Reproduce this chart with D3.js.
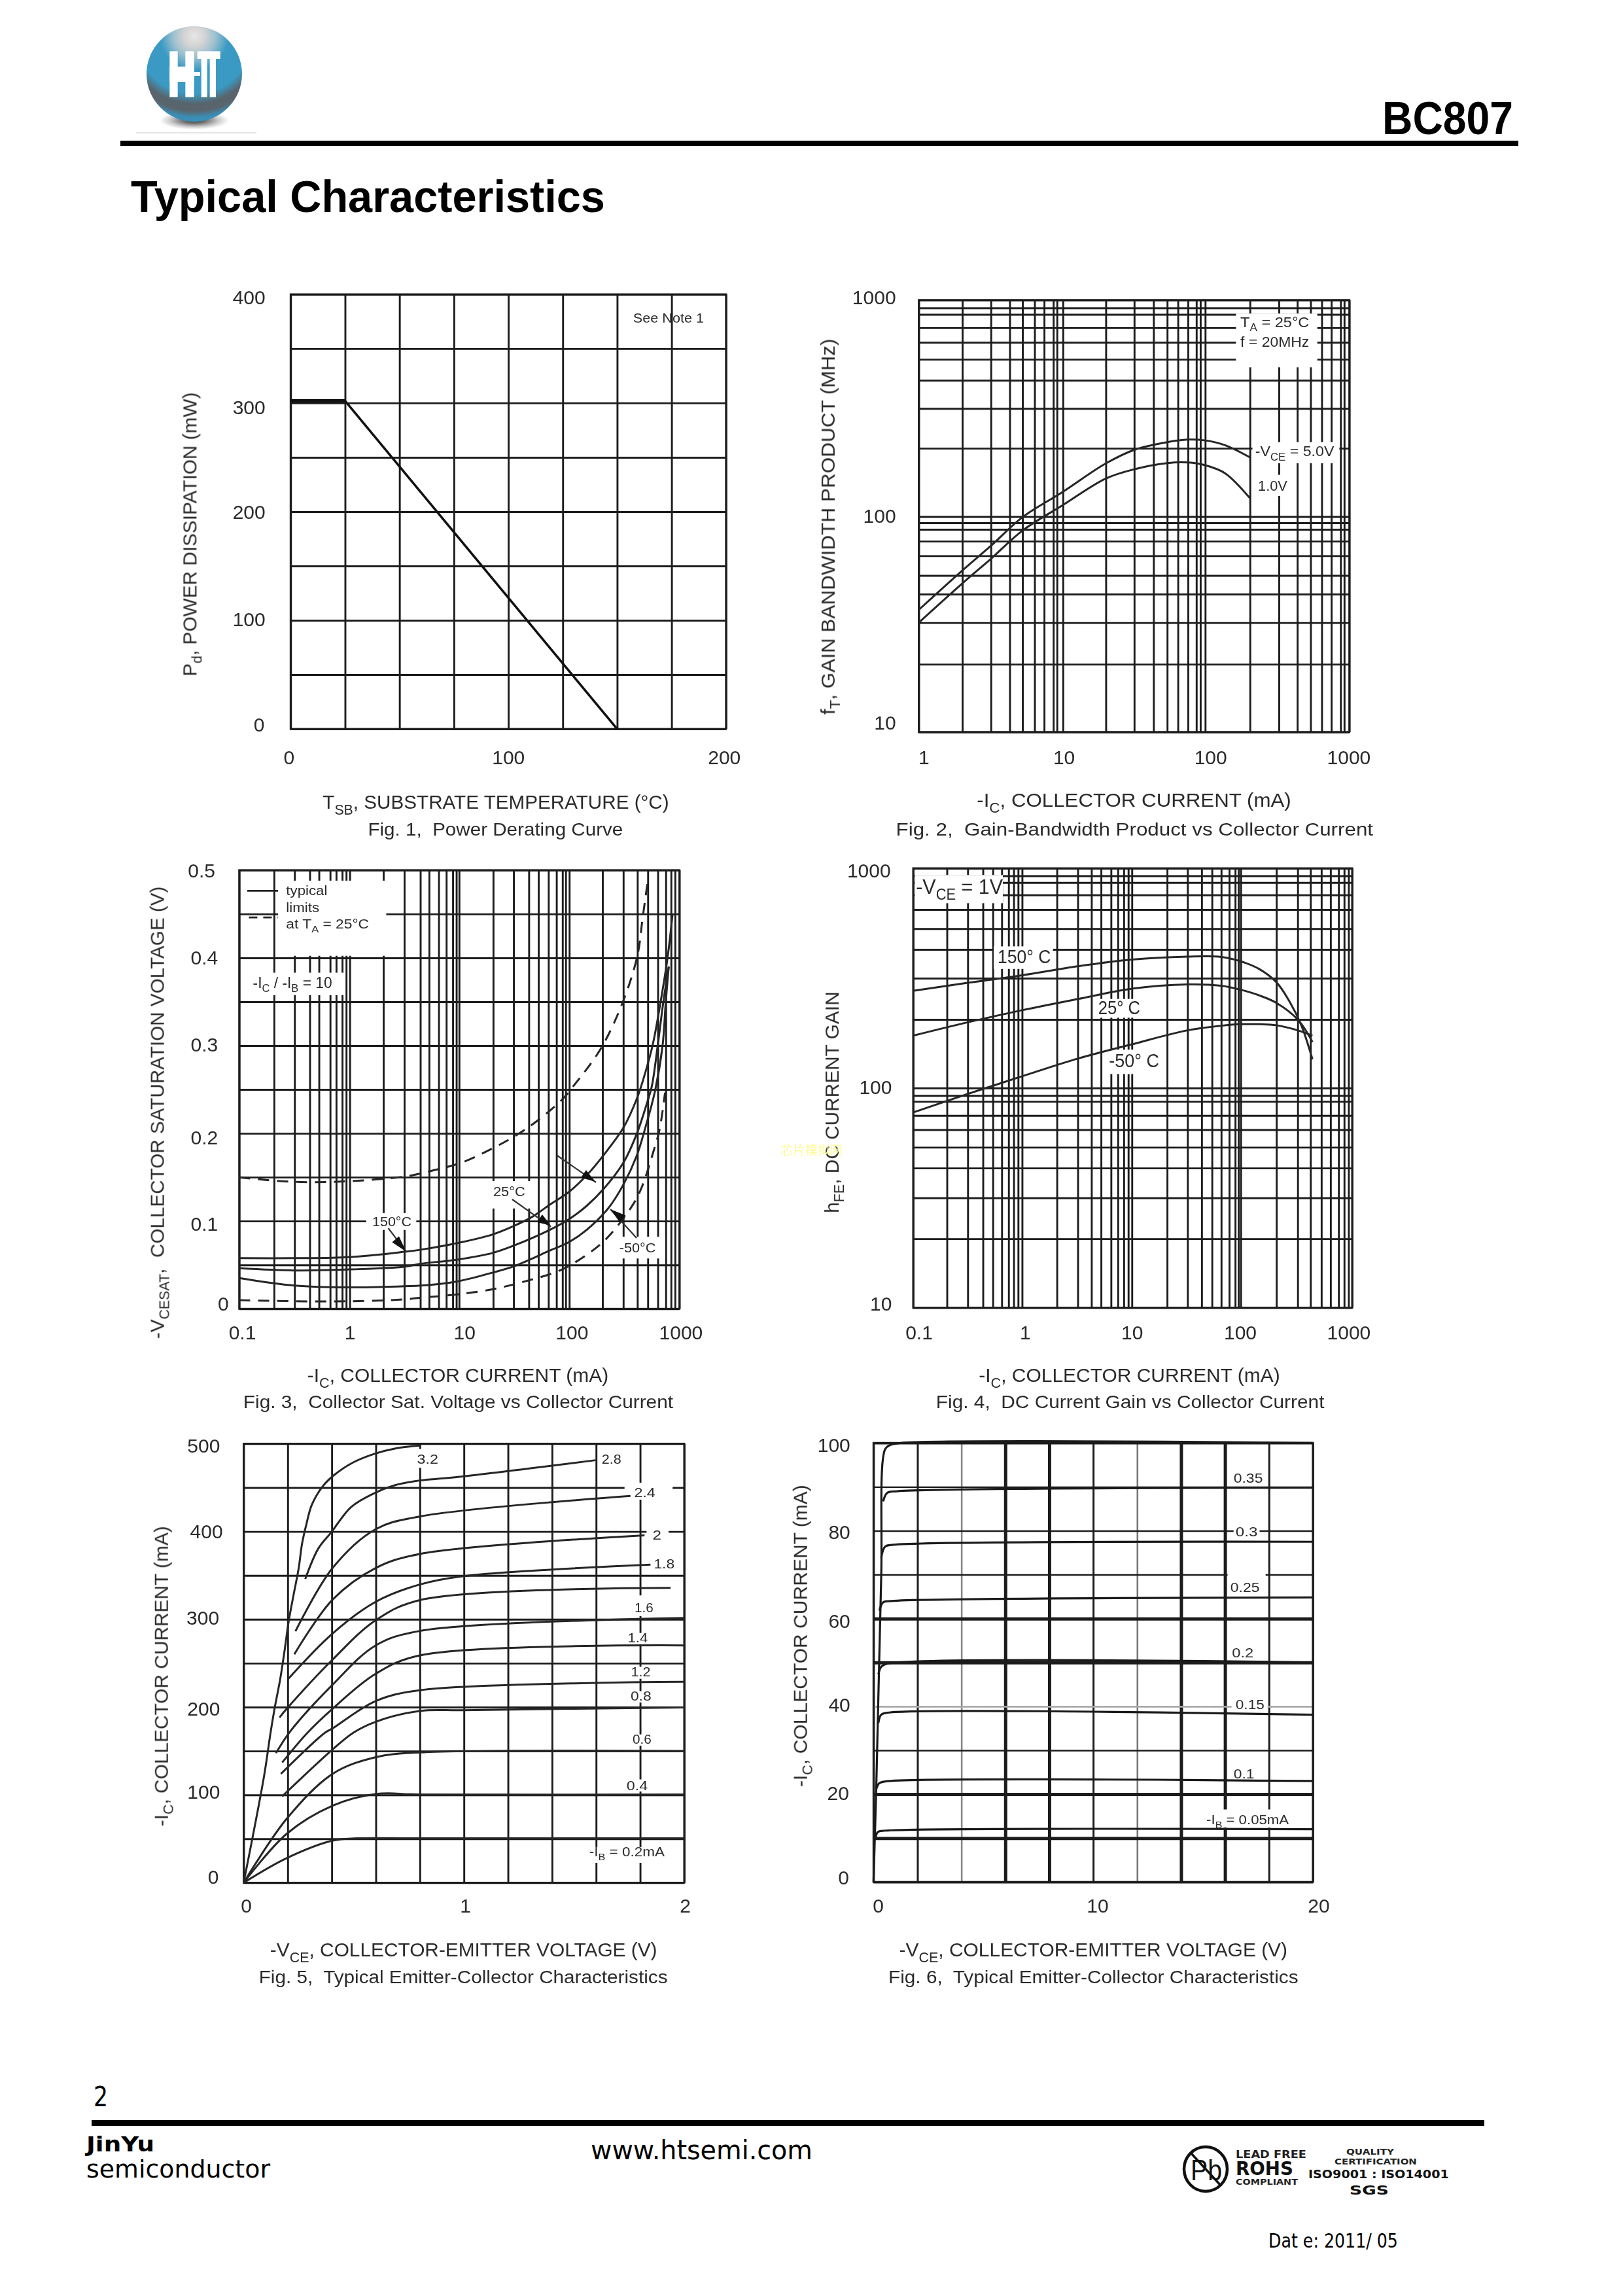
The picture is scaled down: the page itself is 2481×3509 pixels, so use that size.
<!DOCTYPE html>
<html><head><meta charset="utf-8">
<script src="https://cdn.jsdelivr.net/npm/d3@7"></script>
<style>html,body{margin:0;padding:0;background:#fff}svg{display:block}</style>
</head><body><svg id="page" width="2481" height="3509" viewBox="0 0 2481 3509"></svg>
<script>
// ---------- data ----------
const fig1Grid = {x:[0,25,50,75,100,125,150,175,200], y:[0,50,100,150,200,250,300,350,400]};
const fig1T = [0,25,150];
const fig1P = [302,302,0];

const fig2GridX = [1,2.01,3.18,4.30,5.28,6.41,7.47,8.66,9.18,10.1,20.1,31.7,43.2,53.8,63.9,75.1,85.9,91.6,99,203,323,434,537,642,749,869,921,1000];
const fig2GridY = [10,20.6,32.1,43.5,53.1,65.5,76.5,86.8,93.1,99.4,206,315,425,532,637,745,859,921,1000];
const fig2Ic = [1,2,3.2,5.3,10,20,32,54,75,99,136,203];
const fig2V5 = [36.8,55.8,73.1,99,129,175,203,220,226,224,213,187];
const fig2V1 = [32.1,48.6,63.6,85.8,112,149,165,176,177,172,158,121];

const fig3GridX = [0.1,0.207,0.318,0.437,0.53,0.67,0.76,0.862,0.937,1.01,2.04,3.16,4.42,5.31,6.49,7.61,8.71,9.39,9.95,20.3,31.1,42.8,52.3,64.5,76.3,86.5,92.5,99.8,200,309,415,516,636,752,839,912,1000];
const fig3GridY = [0,0.05,0.1,0.15,0.2,0.25,0.3,0.35,0.4,0.45,0.5];
const fig3IcHot = [0.1,0.318,1.01,3.16,4.47,10.6,20.1,31.8,45.8,65.9,99.4,143,206,311,409,469,570,675,780,867];
const fig3Hot = [0.0578,0.0578,0.059,0.065,0.0674,0.0761,0.0848,0.0948,0.1047,0.1184,0.1333,0.1519,0.1756,0.2067,0.239,0.2613,0.30,0.35,0.40,0.45];
const fig3IcMid = [0.1,0.318,1.01,3.16,4.47,9.7,20.1,31.8,65.9,99.4,143,206,311,409,513,562,635,715,800];
const fig3Mid = [0.0462,0.0437,0.0449,0.0479,0.0513,0.0562,0.0637,0.0724,0.0898,0.1022,0.1171,0.137,0.1669,0.1992,0.2365,0.2539,0.30,0.35,0.39];
const fig3IcCold = [0.1,0.318,1.01,3.16,4.47,9.7,20.1,31.8,65.9,99.4,143,226,311,409,491,602,703,752,800];
const fig3Cold = [0.0351,0.0265,0.0244,0.0257,0.0264,0.0314,0.0413,0.0488,0.0662,0.0761,0.0898,0.1147,0.142,0.1743,0.2067,0.2489,0.30,0.35,0.39];
const fig3IcLimHi = [0.1,0.318,1.01,3.16,4.47,10.6,20.1,31.8,47.9,86.7,117,137,200,309,415,463,516];
const fig3LimHi = [0.1498,0.1447,0.1455,0.1507,0.1544,0.1669,0.183,0.1967,0.2116,0.239,0.2589,0.2697,0.2997,0.351,0.4024,0.4452,0.488];
const fig3IcLimLo = [0.1,0.318,1.01,3.16,4.47,7.72,18.4,39.9,86.7,172,236,382,458,589,660,740];
const fig3LimLo = [0.0098,0.0086,0.0086,0.0107,0.0127,0.0152,0.0214,0.0314,0.0451,0.0687,0.0848,0.1196,0.1395,0.1818,0.2042,0.2464];

const fig4GridX = [0.1,0.203,0.314,0.432,0.532,0.641,0.74,0.824,0.904,0.983,2.04,3.16,4.21,5.15,6.35,7.33,8.3,9.12,9.84,20.6,31.6,42.5,52.8,64.1,75.8,85.9,92,96.6,204,319,417,524,635,752,846,927,1000];
const fig4GridY = [10,20.6,31.6,43.2,53.7,64.6,75,86.8,92.4,100,205,316,427,531,649,756,861,924,1000];
const fig4IcHot = [0.1,0.314,0.983,3.16,9.84,31.6,64.1,96.6,142,204,267,344,435];
const fig4Hot = [277,301,326,358,384,396,395,377,348,303,249,193,135];
const fig4IcMid = [0.1,0.314,0.983,3.16,9.84,31.6,64.1,96.6,142,204,319,435];
const fig4Mid = [173,199,226,254,283,296,292,280,264,244,205,162];
const fig4Cold = [77.4,93.9,113,136,158,183,192,195,195,193,183,173];

const fig5GridX = [0,0.2,0.4,0.6,0.8,1,1.2,1.4,1.6,1.8,2];
const fig5GridY = [0,50,100,150,200,250,300,350,400,450,500];
const fig5Curves = [
  [[0,0],[0.195,28],[0.404,48],[0.51,50.5],[0.8,50.5],[2,50.5]],
  [[0,0],[0.195,55.6],[0.404,87.7],[0.6,101],[0.8,100.5],[2,100.5]],
  [[0,0],[0.195,72.7],[0.404,124],[0.6,143],[0.8,148.4],[2,150]],
  [[0.175,98.4],[0.404,151.8],[0.4974,170.8],[0.5984,183.2],[0.7993,195.6],[1,196.5],[2,199.7]],
  [[0.169,124],[0.3687,170.8],[0.4034,175.7],[0.5984,206.8],[0.7993,219.2],[2,228.8]],
  [[0.175,136.9],[0.2896,170.8],[0.4034,198.1],[0.5984,237.8],[0.7993,258.9],[2,270.3]],
  [[0.147,147.6],[0.2104,172],[0.4034,225.4],[0.5984,270.1],[0.7993,286.7],[2,301.5]],
  [[0.1629,188.2],[0.1955,198.1],[0.4034,254],[0.5984,298.7],[0.7993,321.8],[1.938,335.8]],
  [[0.2005,231.6],[0.4034,283.8],[0.5984,319.8],[0.7993,339.6],[1.005,349.4],[1.847,362.3]],
  [[0.2302,260.2],[0.4034,322.3],[0.5984,358.3],[0.7993,374.4],[1.82,395.6]],
  [[0.2351,286.3],[0.4034,358.3],[0.5984,402.5],[0.7993,417.1],[1.756,440.5]],
  [[0.2797,345.9],[0.339,380.6],[0.3984,399.2],[0.4875,427.8],[0.5964,444],[0.6855,452.6],[0.7993,458.1],[0.9429,461.3],[1.598,481.2]],
  [[0,0],[0.093,121.9],[0.1213,169.5],[0.1411,199.3],[0.1658,231.6],[0.1856,263.9],[0.2034,296.2],[0.2252,326],[0.25,358.3],[0.2648,385.6],[0.2846,408],[0.3094,430.3],[0.3588,451.4],[0.4083,463.8],[0.4974,478.7],[0.5964,488.7],[0.6855,494.4],[0.7993,497.8]]
];

const fig6GridX = [0,2,4,6,8,10,12,14,16,18,20];
const fig6GridY = [0,10,20,30,40,50,60,70,80,90,100];
const fig6Curves = [
  [[0,0],[0.13,22.5],[0.35,69.5],[0.53,98.6],[0.75,99.5],[1.26,100],[20,100]],
  [[0.44,86.7],[0.62,88.6],[1.08,89],[20,89.8]],
  [[0.35,73.8],[0.53,76.4],[0.89,76.8],[20,77.5]],
  [[0.27,61.8],[0.44,63.7],[0.8,64],[20,64.8]],
  [[0.22,47.3],[0.35,49],[0.62,49.7],[20,50]],
  [[0.22,36.2],[0.35,38.1],[0.71,38.6],[20,38.1]],
  [[0.13,21.2],[0.26,22.5],[0.53,22.9],[20,23]],
  [[0.09,10],[0.2,11.4],[0.53,11.7],[20,12]]
];

// ---------- helpers ----------
const svg = d3.select('#page');
const defs = svg.append('defs');
const INK = '#1c1c1c', TXT = '#2b2b2b', FONT = '"Liberation Sans",Arial,sans-serif';
const SX = 1568/960;
defs.append('filter').attr('id','soft').attr('x','-5%').attr('y','-5%').attr('width','110%').attr('height','110%')
  .attr('color-interpolation-filters','sRGB').append('feGaussianBlur').attr('stdDeviation',0.55);

function fit(parent, segs, x0, x1, base, size, o={}) {
  const t = parent.append('text').attr('font-family', o.font||FONT).attr('font-size', size)
    .attr('font-weight', o.bold?'bold':'normal').attr('fill', o.fill||TXT).attr('xml:space','preserve')
    .style('white-space','pre');
  if (typeof segs === 'string') segs = [segs];
  let shift = 0;
  segs.forEach(s => {
    const sub = Array.isArray(s);
    const ts = t.append('tspan').text(sub ? s[0] : s);
    if (sub) { ts.attr('font-size', size*0.72).attr('dy', size*0.28-shift); shift = size*0.28; }
    else if (shift) { ts.attr('dy', -shift); shift = 0; }
  });
  const len = t.node().getComputedTextLength();
  const k = Math.abs(x1-x0)/len;
  if (o.rotate) t.attr('transform', `translate(${base},${x0}) rotate(-90) scale(${k},1)`);
  else t.attr('transform', `translate(${x0},${base}) scale(${k},1)`);
  return t;
}

function frame(ox, oy, sy, l, r, t, b) {
  const zx = z => ox + z/SX, zy = z => oy + z/sy;
  const g = svg.append('g').attr('filter','url(#soft)');
  return {zx, zy, g, L:zx(l), R:zx(r), T:zy(t), B:zy(b)};
}

function grid(f, x, y, gx, gy, o={}) {
  const w = f.R-f.L, h = f.B-f.T;
  const vg = f.g.append('g').attr('transform',`translate(0,${f.B})`)
    .call(d3.axisBottom(x).tickValues(gx).tickSize(-h).tickSizeOuter(0).tickFormat(''));
  const hg = f.g.append('g').attr('transform',`translate(${f.L},0)`)
    .call(d3.axisLeft(y).tickValues(gy).tickSize(-w).tickSizeOuter(0).tickFormat(''));
  [vg,hg].forEach(a => { a.select('.domain').remove(); a.selectAll('text').remove(); });
  vg.selectAll('line').attr('stroke', (d,i)=>o.cx?o.cx[i]:INK).attr('stroke-width',(d,i)=>o.wx?o.wx[i]:2.9);
  hg.selectAll('line').attr('stroke', (d,i)=>o.cy?o.cy[i]:INK).attr('stroke-width',(d,i)=>o.wy?o.wy[i]:2.9);
}

function tickLabels(f, x, y, xv, xl, xc, xy, yv, yl, yc, yr, size=30) {
  const ax = f.g.append('g').attr('transform',`translate(0,${f.B})`)
    .call(d3.axisBottom(x).tickValues(xv).tickSize(0).tickFormat((d,i)=>xl[i]));
  ax.select('.domain').remove();
  ax.attr('font-size',size).attr('font-family',FONT);
  ax.selectAll('text').attr('fill',TXT).attr('dy','0.36em')
    .attr('x',(d,i)=>f.zx(xc[i])-x(d)).attr('y',f.zy(xy)-f.B);
  const ay = f.g.append('g').attr('transform',`translate(${f.L},0)`)
    .call(d3.axisLeft(y).tickValues(yv).tickSize(0).tickFormat((d,i)=>yl[i]));
  ay.select('.domain').remove();
  ay.attr('font-size',size).attr('font-family',FONT);
  ay.selectAll('text').attr('fill',TXT).attr('dy','0.36em')
    .attr('x',(d,i)=>f.zx(yr[i])-f.L).attr('y',(d,i)=>f.zy(yc[i])-y(d));
}

function titles(f, xt, xa, xb, xbase, cap, ca, cb, cbase, yt, yb, ys, ye, size=30) {
  fit(f.g, xt, f.zx(xa), f.zx(xb), f.zy(xbase), size);
  fit(f.g, cap, f.zx(ca), f.zx(cb), f.zy(cbase), size*0.95);
  fit(f.g, yt, f.zy(ys), f.zy(ye), f.zx(yb), size, {rotate:true});
}

function box(f, a, b, c, d) {
  f.g.append('rect').attr('x',f.zx(a)).attr('y',f.zy(b)).attr('width',f.zx(c)-f.zx(a)).attr('height',f.zy(d)-f.zy(b)).attr('fill','#fff');
}
function label(f, s, a, b, base, size=21) { fit(f.g, s, f.zx(a), f.zx(b), f.zy(base), size); }

function border(f, w=2.9) {
  f.g.append('rect').attr('x',f.L).attr('y',f.T).attr('width',f.R-f.L).attr('height',f.B-f.T)
    .attr('fill','none').attr('stroke',INK).attr('stroke-width',w);
}
function curve(f, x, y, xs, ys, o={}) {
  const pts = d3.zip(xs, ys);
  const ln = d3.line().x(d=>x(d[0])).y(d=>y(d[1])).curve(o.linear?d3.curveLinear:d3.curveCatmullRom.alpha(0.5));
  f.g.append('path').attr('d',ln(pts)).attr('fill','none').attr('stroke',o.color||'#262626')
    .attr('stroke-width',o.w||3).attr('stroke-dasharray',o.dash||null).attr('stroke-linejoin','round');
}
function pairs(f, x, y, arr, o={}) { curve(f, x, y, arr.map(d=>d[0]), arr.map(d=>d[1]), o); }
// annotation arrow in page pixels: tail line, then a filled head from tip to base
function arrow(f, x1, y1, x2, y2, tx, ty, bx, by) {
  f.g.append('line').attr('x1',x1).attr('y1',y1).attr('x2',x2).attr('y2',y2).attr('stroke','#333').attr('stroke-width',2.2);
  const dx=bx-tx, dy=by-ty, n=Math.hypot(dx,dy)||1, px=-dy/n*7, py=dx/n*7;
  f.g.append('polygon').attr('points',`${tx},${ty} ${bx+px},${by+py} ${bx-px},${by-py}`).attr('fill','#111');
}

// ---------- page header ----------
const sphere = defs.append('radialGradient').attr('id','sph').attr('gradientUnits','userSpaceOnUse')
  .attr('cx',297).attr('cy',55).attr('r',130).attr('fx',297).attr('fy',55);
[[0,'#e6e6e6'],[0.12,'#d4d4d4'],[0.25,'#9cc0cf'],[0.4,'#3a9ac4'],[0.68,'#3a9ac4'],[0.8,'#58646c'],[0.88,'#5a646c'],[0.96,'#3a8fb8'],[1,'#3a8fb8']]
  .forEach(s=>sphere.append('stop').attr('offset',s[0]).attr('stop-color',s[1]));
const shade = defs.append('radialGradient').attr('id','shd');
[[0,'#333'],[0.35,'#777'],[0.7,'#ccc'],[1,'#fff']].forEach(s=>shade.append('stop').attr('offset',s[0]).attr('stop-color',s[1]));
const head = svg.append('g');
head.append('ellipse').attr('cx',297).attr('cy',184).attr('rx',53).attr('ry',14).attr('fill','url(#shd)');
head.append('ellipse').attr('cx',297).attr('cy',113).attr('rx',73).attr('ry',73).attr('fill','url(#sph)');
// logo monogram, stencilled like the original mark
const mark = [[178,145,37,210],[250,145,40,210],[178,215,112,70],[290,240,28,18],[305,145,105,35],[323,180,27,175],[362,180,28,175]];
head.selectAll('.mk').data(mark).enter().append('rect').attr('class','mk').attr('fill','#fff')
  .attr('x',d=>200+d[0]/3).attr('y',d=>30+d[1]/3).attr('width',d=>d[2]/3).attr('height',d=>d[3]/3);
head.append('rect').attr('x',208).attr('y',202).attr('width',184).attr('height',2).attr('fill','#e4e4e4');
fit(head,'BC807',2113,2313,205,70,{bold:true,fill:'#000'});
head.append('rect').attr('x',184).attr('y',215).attr('width',2137).attr('height',8).attr('fill','#000');
fit(head,'Typical Characteristics',200,925,324,68,{bold:true,fill:'#000'});

// ---------- Fig 1 ----------
{
  const f = frame(230,400,1568/920,350,1437,85,1217);
  const x = d3.scaleLinear().domain([0,200]).range([f.L,f.R]);
  const y = d3.scaleLinear().domain([0,400]).range([f.B,f.T]);
  grid(f,x,y,fig1Grid.x,fig1Grid.y);
  border(f);
  tickLabels(f,x,y,[0,100,200],['0','100','200'],[345,893,1432],1290,[0,100,200,300,400],['0','100','200','300','400'],[1205,930,650,378,92],[285,287,287,287,287]);
  curve(f,x,y,fig1T,fig1P,{linear:true,w:3.6,color:'#111'});
  curve(f,x,y,fig1T.slice(0,2),fig1P.slice(0,2),{linear:true,w:5,color:'#111'});
  titles(f,['T',['SB'],', SUBSTRATE TEMPERATURE (°C)'],430,1295,1425,'Fig. 1,  Power Derating Curve',543,1180,1495,['P',['d'],', POWER DISSIPATION (mW)'],115,1080,340);
  label(f,'See Note 1',1205,1382,158,20);
}
// ---------- Fig 2 ----------
{
  const f = frame(1230,400,1568/920,285,1360,100,1225);
  const x = d3.scaleLog().domain([1,1000]).range([f.L,f.R]);
  const y = d3.scaleLog().domain([10,1000]).range([f.B,f.T]);
  grid(f,x,y,fig2GridX,fig2GridY);
  border(f);
  box(f,1077,135,1280,275); box(f,1118,470,1335,525); box(f,1125,555,1210,610);
  tickLabels(f,x,y,[1,10,100,1000],['1','10','100','1000'],[297,647,1013,1358],1290,[10,100,1000],['10','100','1000'],[1200,660,92],[228,228,228]);
  curve(f,x,y,fig2Ic,fig2V5); curve(f,x,y,fig2Ic,fig2V1);
  titles(f,['-I',['C'],', COLLECTOR CURRENT (mA)'],430,1215,1420,'Fig. 2,  Gain-Bandwidth Product vs Collector Current',228,1420,1495,['f',['T'],', GAIN BANDWIDTH PRODUCT (MHz)'],75,1180,200);
  label(f,['T',['A'],' = 25°C'],1088,1260,170,22);
  label(f,'f = 20MHz',1088,1260,222,22);
  label(f,['-V',['CE'],' = 5.0V'],1125,1322,507,22);
  label(f,'1.0V',1132,1205,597,22);
}
// ---------- Fig 3 ----------
{
  const f = frame(220,1300,1568/900,238,1337,52,1220);
  const x = d3.scaleLog().domain([0.1,1000]).range([f.L,f.R]);
  const y = d3.scaleLinear().domain([0,0.5]).range([f.B,f.T]);
  grid(f,x,y,fig3GridX,fig3GridY);
  border(f);
  box(f,335,80,605,280); box(f,265,325,500,385); box(f,555,965,680,1010); box(f,865,880,972,953); box(f,1184,1028,1301,1086);
  tickLabels(f,x,y,[0.1,1,10,100,1000],['0.1','1','10','100','1000'],[245,514,800,1068,1340],1282,[0,0.1,0.2,0.3,0.4,0.5],['0','0.1','0.2','0.3','0.4','0.5'],[1205,993,762,515,283,52],[212,185,185,185,185,178]);
  curve(f,x,y,fig3IcHot,fig3Hot); curve(f,x,y,fig3IcMid,fig3Mid); curve(f,x,y,fig3IcCold,fig3Cold);
  curve(f,x,y,fig3IcLimHi,fig3LimHi,{dash:'17 12'}); curve(f,x,y,fig3IcLimLo,fig3LimLo,{dash:'17 12'});
  arrow(f,851.7,1766,911,1807, 910,1806,892,1794);
  arrow(f,783,1833,842,1875, 842,1873,825,1862);
  arrow(f,973,1892,933,1848, 933,1848,952,1863);
  arrow(f,593.5,1877,621,1913, 621,1913,604.6,1894);
  f.g.append('line').attr('x1',f.zx(258)).attr('x2',f.zx(335)).attr('y1',f.zy(107)).attr('y2',f.zy(107)).attr('stroke','#222').attr('stroke-width',2.6);
  f.g.append('line').attr('x1',f.zx(262)).attr('x2',f.zx(335)).attr('y1',f.zy(178)).attr('y2',f.zy(178)).attr('stroke','#222').attr('stroke-width',2.6).attr('stroke-dasharray','13 9');
  titles(f,['-I',['C'],', COLLECTOR CURRENT (mA)'],408,1160,1415,'Fig. 3,  Collector Sat. Voltage vs Collector Current',248,1322,1485,['-V',['CESAT'],',  COLLECTOR SATURATION VOLTAGE (V)'],50,1300,95);
  label(f,'typical',355,458,118); label(f,'limits',355,438,163);
  label(f,['at T',['A'],' = 25°C'],355,562,208);
  label(f,['-I',['C'],' / -I',['B'],' = 10'],272,470,365,23);
  label(f,'150°C',570,668,1000); label(f,'25°C',872,952,920); label(f,'-50°C',1187,1278,1070);
}
// ---------- Fig 4 ----------
{
  const f = frame(1230,1300,1568/900,271,1367,47,1217);
  const x = d3.scaleLog().domain([0.1,1000]).range([f.L,f.R]);
  const y = d3.scaleLog().domain([10,1000]).range([f.B,f.T]);
  grid(f,x,y,fig4GridX,fig4GridY);
  border(f);
  box(f,275,65,495,140); box(f,472,255,620,315); box(f,725,395,845,445); box(f,755,530,890,595);
  tickLabels(f,x,y,[0.1,1,10,100,1000],['0.1','1','10','100','1000'],[285,550,817,1087,1358],1282,[10,100,1000],['10','100','1000'],[1205,628,52],[218,218,215]);
  curve(f,x,y,fig4IcHot,fig4Hot); curve(f,x,y,fig4IcMid,fig4Mid); curve(f,x,y,fig4IcMid,fig4Cold);
  titles(f,['-I',['C'],', COLLECTOR CURRENT (mA)'],435,1187,1415,'Fig. 4,  DC Current Gain vs Collector Current',328,1298,1485,['h',['FE'],', DC CURRENT GAIN'],85,965,375);
  label(f,['-V',['CE'],' = 1V'],278,495,115,32);
  label(f,'150° C',482,615,300,30); label(f,'25° C',733,838,436,30); label(f,'-50° C',760,885,577,30);
}
// ---------- Fig 5 ----------
{
  const f = frame(220,2180,1568/900,249,1349,46,1215);
  const x = d3.scaleLinear().domain([0,2]).range([f.L,f.R]);
  const y = d3.scaleLinear().domain([0,500]).range([f.B,f.T]);
  grid(f,x,y,fig5GridX,fig5GridY);
  border(f);
  [[680,60,740,110],[1200,150,1320,195],[1255,270,1310,310],[1265,350,1335,385],[1225,450,1280,505],[1205,550,1262,580],[1212,640,1270,672],[1212,705,1270,735],[1217,820,1270,850],[1203,940,1262,972],[1110,1120,1305,1162]]
    .forEach(b=>box(f,b[0],b[1],b[2],b[3]));
  tickLabels(f,x,y,[0,1,2],['0','1','2'],[255,802,1351],1275,[0,100,200,300,400,500],['0','100','200','300','400','500'],[1198,972,750,508,278,50],[187,190,190,188,197,190]);
  fig5Curves.forEach(c=>pairs(f,x,y,c));
  titles(f,['-V',['CE'],', COLLECTOR-EMITTER VOLTAGE (V)'],315,1282,1412,'Fig. 5,  Typical Emitter-Collector Characteristics',287,1308,1483,['-I',['C'],', COLLECTOR CURRENT (mA)'],60,1065,265);
  [['3.2',682,735,100],['2.8',1143,1192,100],['2.4',1224,1277,188],['2',1270,1292,302],['1.8',1273,1325,378],['1.6',1225,1272,495],['1.4',1208,1258,575],['1.2',1216,1265,665],['0.8',1215,1267,730],['0.6',1220,1267,845],['0.4',1205,1258,968]]
    .forEach(l=>label(f,l[0],l[1],l[2],l[3]));
  label(f,['-I',['B'],' = 0.2mA'],1112,1300,1145);
}
// ---------- Fig 6 ----------
{
  const f = frame(1200,2180,1568/900,221,1318,44,1213);
  const x = d3.scaleLinear().domain([0,20]).range([f.L,f.R]);
  const y = d3.scaleLinear().domain([0,100]).range([f.B,f.T]);
  grid(f,x,y,fig6GridX,fig6GridY,{
    wx:[3,3,2.6,5,5,3,2.6,5,5,3,3], cx:[INK,INK,'#888',INK,INK,INK,'#777',INK,INK,INK,INK],
    wy:[3.5,5,5,2.4,2.6,5,5,2.4,2.4,2.4,3.5], cy:[INK,INK,INK,INK,'#aaa',INK,INK,INK,INK,INK,INK]
  });
  border(f,3);
  [[1105,125,1200,158],[1120,265,1185,295],[1105,385,1200,445],[1112,590,1175,620],[1115,725,1205,760],[1115,910,1178,940],[1045,1020,1265,1068]]
    .forEach(b=>box(f,b[0],b[1],b[2],b[3]));
  tickLabels(f,x,y,[0,10,20],['0','10','20'],[232,780,1332],1275,[0,20,40,60,80,100],['0','20','40','60','80','100'],[1200,975,740,517,280,48],[160,160,163,163,163,163]);
  fig6Curves.forEach(c=>pairs(f,x,y,c,{w:3.2,color:'#1a1a1a'}));
  titles(f,['-V',['CE'],', COLLECTOR-EMITTER VOLTAGE (V)'],285,1255,1412,'Fig. 6,  Typical Emitter-Collector Characteristics',258,1282,1483,['-I',['C'],', COLLECTOR CURRENT (mA)'],55,960,155);
  [['0.35',1120,1193,150],['0.3',1125,1180,292],['0.25',1112,1185,440],['0.2',1116,1170,615],['0.15',1125,1197,752],['0.1',1120,1172,938]]
    .forEach(l=>label(f,l[0],l[1],l[2],l[3]));
  label(f,['-I',['B'],' = 0.05mA'],1052,1258,1060);
}
// watermark over the Fig 4 axis title
svg.append('text').attr('x',1193).attr('y',1765).attr('font-family','"Noto Sans CJK SC"').attr('font-size',19).attr('fill','#fcfc9a').text('芯片模拟网');

// ---------- page footer ----------
const foot = svg.append('g'), DJ = '"DejaVu Sans",sans-serif';
fit(foot,'2',143,165,3219,42,{font:DJ,fill:'#000'});
foot.append('rect').attr('x',140).attr('y',3240).attr('width',2129).attr('height',9).attr('fill','#000');
fit(foot,'JinYu',132,236,3288,32,{font:DJ,bold:true,fill:'#000'});
fit(foot,'semiconductor',132,413,3328,38,{font:DJ,fill:'#000'});
fit(foot,'www.htsemi.com',903,1242,3300,40,{font:DJ,fill:'#000'});
foot.append('ellipse').attr('cx',1843).attr('cy',3315).attr('rx',33).attr('ry',34).attr('fill','none').attr('stroke','#111').attr('stroke-width',4.5);
foot.append('line').attr('x1',1820).attr('y1',3290).attr('x2',1866).attr('y2',3340).attr('stroke','#111').attr('stroke-width',3.5);
fit(foot,'Pb',1820,1868,3332,44,{fill:'#111'});
fit(foot,'LEAD FREE',1889,1997,3298,16,{font:DJ,bold:true,fill:'#222'});
fit(foot,'ROHS',1889,1977,3324,28,{font:DJ,bold:true,fill:'#111'});
fit(foot,'COMPLIANT',1889,1984,3339,13,{font:DJ,bold:true,fill:'#222'});
fit(foot,'QUALITY',2058,2131,3293,13,{font:DJ,bold:true,fill:'#222'});
fit(foot,'CERTIFICATION',2040,2166,3308,13,{font:DJ,bold:true,fill:'#222'});
fit(foot,'ISO9001 : ISO14001',2000,2215,3329,18,{font:DJ,bold:true,fill:'#111'});
fit(foot,'SGS',2063,2123,3354,20,{font:DJ,bold:true,fill:'#111'});
fit(foot,'Dat e: 2011/ 05',1939,2137,3435,30,{font:DJ,fill:'#000'});
</script></body></html>
